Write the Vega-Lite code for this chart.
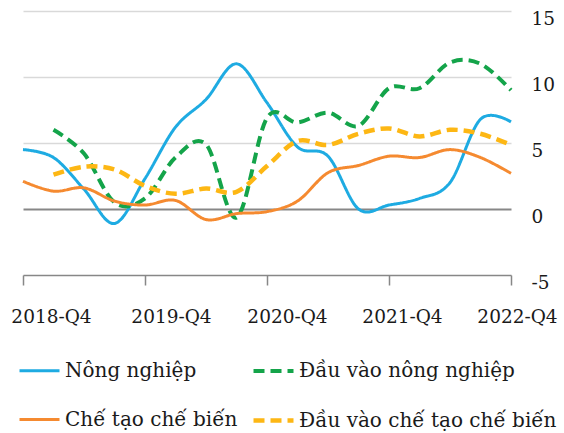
{
  "$schema": "https://vega.github.io/schema/vega-lite/v6.json",
  "width": 488,
  "height": 264,
  "autosize": "none",
  "padding": {"left": 23, "top": 11, "right": 53, "bottom": 158},
  "config": {"view": {"stroke": null}, "font": "DejaVu Serif"},
  "datasets": {
    "rows": [
      {"quarter": "2018-Q4", "series": "Nông nghiệp", "value": 4.5},
      {"quarter": "2019-Q1", "series": "Nông nghiệp", "value": 3.9},
      {"quarter": "2019-Q2", "series": "Nông nghiệp", "value": 1.5},
      {"quarter": "2019-Q3", "series": "Nông nghiệp", "value": -1.1},
      {"quarter": "2019-Q4", "series": "Nông nghiệp", "value": 2.3},
      {"quarter": "2020-Q1", "series": "Nông nghiệp", "value": 6.2},
      {"quarter": "2020-Q2", "series": "Nông nghiệp", "value": 8.3},
      {"quarter": "2020-Q3", "series": "Nông nghiệp", "value": 11.0},
      {"quarter": "2020-Q4", "series": "Nông nghiệp", "value": 8.05},
      {"quarter": "2021-Q1", "series": "Nông nghiệp", "value": 4.7},
      {"quarter": "2021-Q2", "series": "Nông nghiệp", "value": 4.0},
      {"quarter": "2021-Q3", "series": "Nông nghiệp", "value": 0.0},
      {"quarter": "2021-Q4", "series": "Nông nghiệp", "value": 0.3},
      {"quarter": "2022-Q1", "series": "Nông nghiệp", "value": 0.8},
      {"quarter": "2022-Q2", "series": "Nông nghiệp", "value": 2.0},
      {"quarter": "2022-Q3", "series": "Nông nghiệp", "value": 6.8},
      {"quarter": "2022-Q4", "series": "Nông nghiệp", "value": 6.6},
      {"quarter": "2019-Q1", "series": "Đầu vào nông nghiệp", "value": 6.0},
      {"quarter": "2019-Q2", "series": "Đầu vào nông nghiệp", "value": 4.2},
      {"quarter": "2019-Q3", "series": "Đầu vào nông nghiệp", "value": 0.5},
      {"quarter": "2019-Q4", "series": "Đầu vào nông nghiệp", "value": 0.8},
      {"quarter": "2020-Q1", "series": "Đầu vào nông nghiệp", "value": 3.9},
      {"quarter": "2020-Q2", "series": "Đầu vào nông nghiệp", "value": 4.9},
      {"quarter": "2020-Q3", "series": "Đầu vào nông nghiệp", "value": -0.65},
      {"quarter": "2020-Q4", "series": "Đầu vào nông nghiệp", "value": 6.9},
      {"quarter": "2021-Q1", "series": "Đầu vào nông nghiệp", "value": 6.55},
      {"quarter": "2021-Q2", "series": "Đầu vào nông nghiệp", "value": 7.3},
      {"quarter": "2021-Q3", "series": "Đầu vào nông nghiệp", "value": 6.3},
      {"quarter": "2021-Q4", "series": "Đầu vào nông nghiệp", "value": 9.15},
      {"quarter": "2022-Q1", "series": "Đầu vào nông nghiệp", "value": 9.15},
      {"quarter": "2022-Q2", "series": "Đầu vào nông nghiệp", "value": 11.1},
      {"quarter": "2022-Q3", "series": "Đầu vào nông nghiệp", "value": 11.0},
      {"quarter": "2022-Q4", "series": "Đầu vào nông nghiệp", "value": 9.0},
      {"quarter": "2018-Q4", "series": "Chế tạo chế biến", "value": 2.1},
      {"quarter": "2019-Q1", "series": "Chế tạo chế biến", "value": 1.35},
      {"quarter": "2019-Q2", "series": "Chế tạo chế biến", "value": 1.6},
      {"quarter": "2019-Q3", "series": "Chế tạo chế biến", "value": 0.6},
      {"quarter": "2019-Q4", "series": "Chế tạo chế biến", "value": 0.3},
      {"quarter": "2020-Q1", "series": "Chế tạo chế biến", "value": 0.65},
      {"quarter": "2020-Q2", "series": "Chế tạo chế biến", "value": -0.8},
      {"quarter": "2020-Q3", "series": "Chế tạo chế biến", "value": -0.35},
      {"quarter": "2020-Q4", "series": "Chế tạo chế biến", "value": -0.2},
      {"quarter": "2021-Q1", "series": "Chế tạo chế biến", "value": 0.6},
      {"quarter": "2021-Q2", "series": "Chế tạo chế biến", "value": 2.75},
      {"quarter": "2021-Q3", "series": "Chế tạo chế biến", "value": 3.3},
      {"quarter": "2021-Q4", "series": "Chế tạo chế biến", "value": 4.0},
      {"quarter": "2022-Q1", "series": "Chế tạo chế biến", "value": 3.9},
      {"quarter": "2022-Q2", "series": "Chế tạo chế biến", "value": 4.5},
      {"quarter": "2022-Q3", "series": "Chế tạo chế biến", "value": 3.9},
      {"quarter": "2022-Q4", "series": "Chế tạo chế biến", "value": 2.7},
      {"quarter": "2019-Q1", "series": "Đầu vào chế tạo chế biến", "value": 2.6},
      {"quarter": "2019-Q2", "series": "Đầu vào chế tạo chế biến", "value": 3.2},
      {"quarter": "2019-Q3", "series": "Đầu vào chế tạo chế biến", "value": 3.0},
      {"quarter": "2019-Q4", "series": "Đầu vào chế tạo chế biến", "value": 1.75},
      {"quarter": "2020-Q1", "series": "Đầu vào chế tạo chế biến", "value": 1.15},
      {"quarter": "2020-Q2", "series": "Đầu vào chế tạo chế biến", "value": 1.55},
      {"quarter": "2020-Q3", "series": "Đầu vào chế tạo chế biến", "value": 1.3},
      {"quarter": "2020-Q4", "series": "Đầu vào chế tạo chế biến", "value": 3.25},
      {"quarter": "2021-Q1", "series": "Đầu vào chế tạo chế biến", "value": 5.15},
      {"quarter": "2021-Q2", "series": "Đầu vào chế tạo chế biến", "value": 4.85},
      {"quarter": "2021-Q3", "series": "Đầu vào chế tạo chế biến", "value": 5.7},
      {"quarter": "2021-Q4", "series": "Đầu vào chế tạo chế biến", "value": 6.1},
      {"quarter": "2022-Q1", "series": "Đầu vào chế tạo chế biến", "value": 5.5},
      {"quarter": "2022-Q2", "series": "Đầu vào chế tạo chế biến", "value": 6.0},
      {"quarter": "2022-Q3", "series": "Đầu vào chế tạo chế biến", "value": 5.7},
      {"quarter": "2022-Q4", "series": "Đầu vào chế tạo chế biến", "value": 4.85}
    ]
  },
  "data": {"name": "rows"},
  "mark": {"type": "line", "interpolate": "cardinal", "strokeCap": "butt"},
  "encoding": {
    "x": {
      "field": "quarter",
      "type": "ordinal",
      "scale": {"type": "point", "padding": 0},
      "axis": {
        "title": null,
        "values": ["2018-Q4", "2019-Q4", "2020-Q4", "2021-Q4", "2022-Q4"],
        "labelAngle": 0,
        "labelFontSize": 18.5,
        "labelColor": "#1a1a1a",
        "labelPadding": 22,
        "labelOffset": {
          "condition": [
            {"test": "datum.value == '2018-Q4'", "value": 28},
            {"test": "datum.value == '2019-Q4'", "value": 26},
            {"test": "datum.value == '2020-Q4'", "value": 20},
            {"test": "datum.value == '2021-Q4'", "value": 13}
          ],
          "value": 6
        },
        "domainColor": "#878787",
        "domainWidth": 1.5,
        "tickColor": "#878787",
        "tickWidth": 1.5,
        "tickSize": 10,
        "grid": false
      }
    },
    "y": {
      "field": "value",
      "type": "quantitative",
      "scale": {"domain": [-5, 15], "nice": false, "zero": false},
      "axis": {
        "title": null,
        "orient": "right",
        "values": [-5, 0, 5, 10, 15],
        "labelExpr": "datum.value < 0 ? '-' + abs(datum.value) : '' + datum.value",
        "domain": false,
        "ticks": false,
        "labelFontSize": 18.5,
        "labelColor": "#1a1a1a",
        "labelPadding": 20,
        "labelBaseline": "top",
        "labelOffset": -2,
        "grid": true,
        "gridColor": {"condition": {"test": "datum.value == 0", "value": "#878787"}, "value": "#d9d9d9"},
        "gridWidth": {"condition": {"test": "datum.value == 0", "value": 2}, "value": 1.5},
        "gridOpacity": {"condition": {"test": "datum.value == -5", "value": 0}, "value": 1}
      }
    },
    "color": {
      "field": "series",
      "type": "nominal",
      "title": null,
      "scale": {
        "domain": ["Nông nghiệp", "Đầu vào nông nghiệp", "Chế tạo chế biến", "Đầu vào chế tạo chế biến"],
        "range": ["#1EABE2", "#14A44A", "#F58A30", "#FDB714"]
      },
      "legend": {
        "orient": "none",
        "legendX": -6,
        "legendY": 338,
        "direction": "horizontal",
        "columns": 2,
        "columnPadding": 6,
        "rowPadding": 17,
        "padding": 0,
        "symbolType": "stroke",
        "symbolSize": 1600,
        "symbolStrokeWidth": 3,
        "labelFontSize": 20,
        "labelColor": "#1a1a1a",
        "labelOffset": 3,
        "labelLimit": 400
      }
    },
    "strokeDash": {
      "field": "series",
      "type": "nominal",
      "title": null,
      "scale": {
        "domain": ["Nông nghiệp", "Đầu vào nông nghiệp", "Chế tạo chế biến", "Đầu vào chế tạo chế biến"],
        "range": [[1, 0], [11, 6], [1, 0], [11, 6]]
      },
      "legend": {
        "orient": "none",
        "legendX": -6,
        "legendY": 338,
        "direction": "horizontal",
        "columns": 2,
        "columnPadding": 6,
        "rowPadding": 17,
        "padding": 0,
        "symbolType": "stroke",
        "symbolSize": 1600,
        "symbolStrokeWidth": 3,
        "labelFontSize": 20,
        "labelColor": "#1a1a1a",
        "labelOffset": 3,
        "labelLimit": 400
      }
    },
    "strokeWidth": {
      "field": "series",
      "type": "nominal",
      "scale": {
        "type": "ordinal",
        "domain": ["Nông nghiệp", "Đầu vào nông nghiệp", "Chế tạo chế biến", "Đầu vào chế tạo chế biến"],
        "range": [3, 4, 3, 4.5]
      },
      "legend": null
    }
  }
}
